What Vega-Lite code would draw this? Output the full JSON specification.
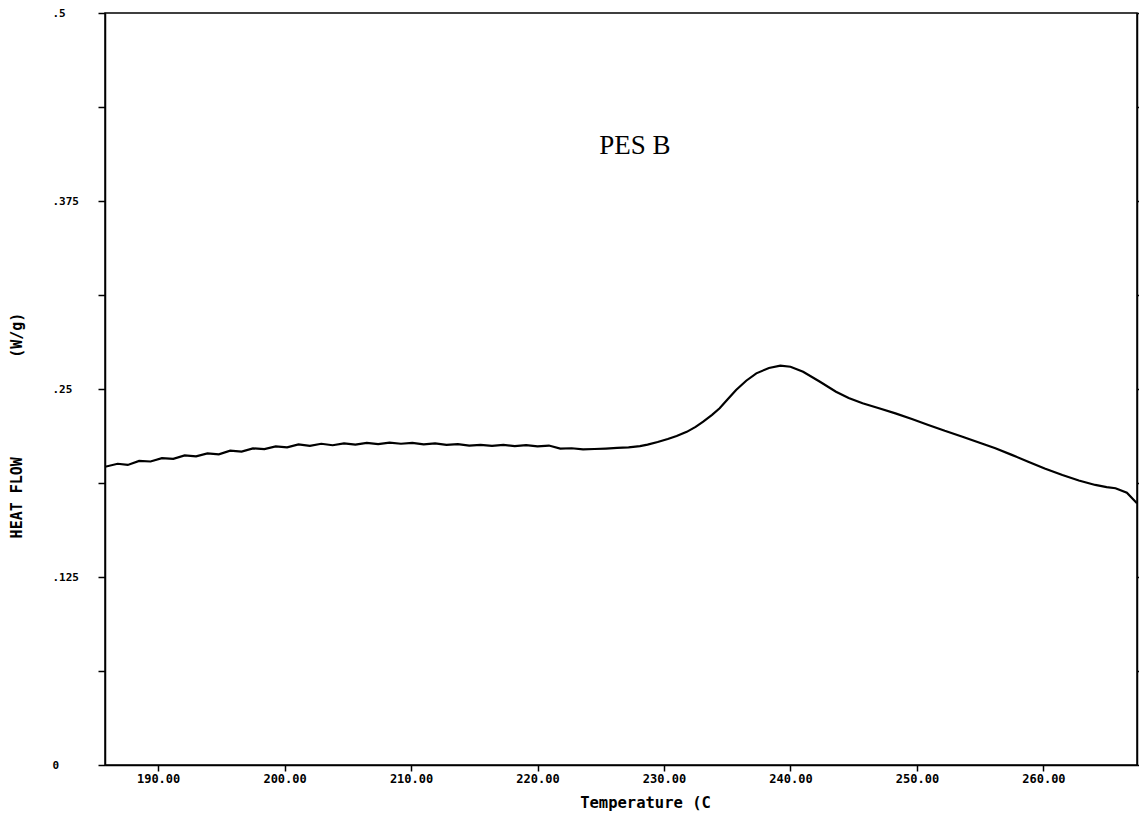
{
  "$schema": "https://vega.github.io/schema/vega-lite/v6.json",
  "width": 1032,
  "height": 752,
  "autosize": {"type": "none"},
  "padding": {"left": 105, "top": 13, "right": 2, "bottom": 50},
  "background": "white",
  "config": {
    "view": {"stroke": "black", "strokeWidth": 1.5},
    "axis": {
      "grid": false,
      "domainColor": "black",
      "domainWidth": 1.5,
      "tickColor": "black",
      "tickWidth": 1.5,
      "labelFont": "DejaVu Sans Mono",
      "labelFontWeight": "bold",
      "labelFontSize": 12,
      "labelColor": "black",
      "titleFont": "DejaVu Sans Mono",
      "titleFontWeight": "bold",
      "titleFontSize": 13,
      "titleColor": "black"
    }
  },
  "data": {"values": [
    {"T": 185.8, "v": 0.1983}, {"T": 186.8, "v": 0.2003}, {"T": 187.6, "v": 0.1995},
    {"T": 188.5, "v": 0.2022}, {"T": 189.4, "v": 0.2018}, {"T": 190.3, "v": 0.2040},
    {"T": 191.2, "v": 0.2036}, {"T": 192.1, "v": 0.2058}, {"T": 193.0, "v": 0.2052},
    {"T": 193.9, "v": 0.2072}, {"T": 194.8, "v": 0.2066}, {"T": 195.7, "v": 0.2090},
    {"T": 196.6, "v": 0.2084}, {"T": 197.5, "v": 0.2105}, {"T": 198.4, "v": 0.2100},
    {"T": 199.3, "v": 0.2118}, {"T": 200.2, "v": 0.2112}, {"T": 201.1, "v": 0.2132},
    {"T": 202.0, "v": 0.2122}, {"T": 202.9, "v": 0.2136}, {"T": 203.8, "v": 0.2126},
    {"T": 204.7, "v": 0.2138}, {"T": 205.6, "v": 0.2130}, {"T": 206.5, "v": 0.2142},
    {"T": 207.4, "v": 0.2134}, {"T": 208.3, "v": 0.2144}, {"T": 209.2, "v": 0.2136},
    {"T": 210.1, "v": 0.2142}, {"T": 211.0, "v": 0.2132}, {"T": 211.9, "v": 0.2138},
    {"T": 212.8, "v": 0.2128}, {"T": 213.7, "v": 0.2134}, {"T": 214.6, "v": 0.2124},
    {"T": 215.5, "v": 0.2128}, {"T": 216.4, "v": 0.2122}, {"T": 217.3, "v": 0.2128},
    {"T": 218.2, "v": 0.2120}, {"T": 219.1, "v": 0.2127}, {"T": 220.0, "v": 0.2118},
    {"T": 220.9, "v": 0.2124}, {"T": 221.8, "v": 0.2104}, {"T": 222.7, "v": 0.2106},
    {"T": 223.6, "v": 0.2099}, {"T": 224.5, "v": 0.2101}, {"T": 225.4, "v": 0.2104},
    {"T": 226.3, "v": 0.2108}, {"T": 227.2, "v": 0.2112}, {"T": 228.1, "v": 0.2120},
    {"T": 228.7, "v": 0.2130}, {"T": 229.5, "v": 0.2148}, {"T": 230.3, "v": 0.2168},
    {"T": 231.0, "v": 0.2188}, {"T": 231.8, "v": 0.2215}, {"T": 232.5, "v": 0.2248},
    {"T": 233.1, "v": 0.2283}, {"T": 233.8, "v": 0.2328}, {"T": 234.4, "v": 0.2372},
    {"T": 235.0, "v": 0.2428}, {"T": 235.7, "v": 0.2493}, {"T": 236.5, "v": 0.2555},
    {"T": 237.3, "v": 0.2604}, {"T": 238.3, "v": 0.2640}, {"T": 239.2, "v": 0.2655},
    {"T": 240.0, "v": 0.2648}, {"T": 241.0, "v": 0.2615}, {"T": 242.3, "v": 0.2550},
    {"T": 243.6, "v": 0.2482}, {"T": 244.6, "v": 0.2440}, {"T": 245.7, "v": 0.2405},
    {"T": 247.0, "v": 0.2372}, {"T": 248.3, "v": 0.2338}, {"T": 249.6, "v": 0.2300},
    {"T": 250.9, "v": 0.2261}, {"T": 252.2, "v": 0.2222}, {"T": 253.6, "v": 0.2183},
    {"T": 254.9, "v": 0.2144}, {"T": 256.2, "v": 0.2106}, {"T": 257.5, "v": 0.2062},
    {"T": 258.8, "v": 0.2017}, {"T": 260.1, "v": 0.1972}, {"T": 261.5, "v": 0.1928},
    {"T": 262.8, "v": 0.1892}, {"T": 264.1, "v": 0.1862}, {"T": 265.0, "v": 0.1848},
    {"T": 265.7, "v": 0.1840}, {"T": 266.6, "v": 0.1810}, {"T": 267.4, "v": 0.1740}
  ]},
  "layer": [
    {
      "mark": {"type": "line", "color": "black", "strokeWidth": 2.2, "clip": true},
      "encoding": {
        "x": {
          "field": "T", "type": "quantitative",
          "scale": {"domain": [185.8, 267.4], "nice": false, "zero": false},
          "axis": {
            "values": [190, 200, 210, 220, 230, 240, 250, 260],
            "format": ".2f",
            "tickSize": 6,
            "labelPadding": 2,
            "title": "Temperature (C",
            "titleFontSize": 15.5,
            "titleX": 540,
            "titleY": 30,
            "titleBaseline": "top"
          }
        },
        "y": {
          "field": "v", "type": "quantitative",
          "scale": {"domain": [0, 0.5], "nice": false, "zero": true},
          "axis": {
            "orient": "left",
            "values": [0, 0.0625, 0.125, 0.1875, 0.25, 0.3125, 0.375, 0.4375, 0.5],
            "labelExpr": "datum.value === 0 ? '0' : ((datum.value * 16) % 2 === 1 ? '' : replace(format(datum.value, '.3~f'), '0.', '.'))",
            "labelFontSize": 11,
            "tickSize": 7,
            "labelAlign": "left",
            "labelPadding": 46,
            "title": "HEAT FLOW\u00a0\u00a0\u00a0\u00a0\u00a0\u00a0\u00a0\u00a0\u00a0\u00a0\u00a0(W/g)",
            "titleFontSize": 15,
            "titleX": -81,
            "titleY": 412
          }
        }
      }
    },
    {
      "mark": {"type": "line", "opacity": 0},
      "encoding": {
        "x": {"field": "T", "type": "quantitative"},
        "y": {
          "field": "v", "type": "quantitative",
          "axis": {
            "orient": "right",
            "values": [0, 0.0625, 0.125, 0.1875, 0.25, 0.3125, 0.375, 0.4375, 0.5],
            "labels": false,
            "tickSize": 6,
            "title": null
          }
        }
      }
    },
    {
      "data": {"values": [{"T": 227.7, "v": 0.4116, "label": "PES B"}]},
      "mark": {"type": "text", "font": "Liberation Serif", "fontSize": 27, "color": "black", "align": "center", "baseline": "middle"},
      "encoding": {
        "x": {"field": "T", "type": "quantitative"},
        "y": {"field": "v", "type": "quantitative", "axis": null},
        "text": {"field": "label"}
      }
    }
  ],
  "resolve": {"axis": {"y": "independent"}}
}
